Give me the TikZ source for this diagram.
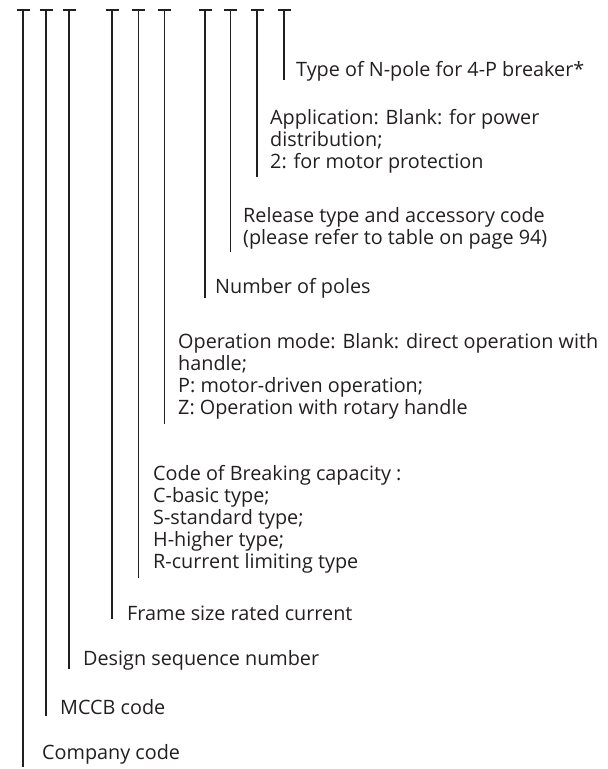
\documentclass[tikz,border=0pt]{standalone}
\usepackage{fontspec}
\setmainfont{Open Sans}
\definecolor{inkdark}{HTML}{231F20}
\tikzset{
  stem/.style={draw=inkdark, line width=1.8pt},
  codetext/.style={anchor=west, inner sep=0pt, align=left, text=inkdark,
    font=\fontsize{19.8}{22}\selectfont}
}
\begin{document}
\begin{tikzpicture}[x=1pt,y=-1pt]
  \useasboundingbox (0,0) rectangle (608,769);

  % Nodes
  \node[codetext] (company) at (42,754) {Company code};
  \node[codetext] (mccb) at (60,707) {MCCB code};
  \node[codetext] (design) at (83,660) {Design sequence number};
  \node[codetext] (frame) at (127,613) {Frame size rated current};
  \node[codetext] (breaking) at (153,519) {Code of Breaking capacity :\\C-basic type;\\S-standard type;\\H-higher type;\\R-current limiting type};
  \node[codetext] (opmode) at (178,376) {Operation mode: Blank: direct operation with\\handle;\\P: motor-driven operation;\\Z: Operation with rotary handle};
  \node[codetext] (poles) at (215,288) {Number of poles};
  \node[codetext] (release) at (243,228) {Release type and accessory code\\(please refer to table on page 94)};
  \node[codetext] (application) at (270,141) {Application: Blank: for power\\distribution;\\2: for motor protection};
  \node[codetext] (npole) at (296,71) {Type of N-pole for 4-P breaker*};

  % Stems
  \coordinate (top1) at (23,10);    \coordinate (bot1) at (23,767);
  \coordinate (top2) at (46,10);    \coordinate (bot2) at (46,716);
  \coordinate (top3) at (69,10);    \coordinate (bot3) at (69,669);
  \coordinate (top4) at (112,10);   \coordinate (bot4) at (112,619);
  \coordinate (top5) at (138.5,10); \coordinate (bot5) at (138.5,578);
  \coordinate (top6) at (164.5,10); \coordinate (bot6) at (164.5,424);
  \coordinate (top7) at (205,10);   \coordinate (bot7) at (205,298);
  \coordinate (top8) at (230.5,10); \coordinate (bot8) at (230.5,252);
  \coordinate (top9) at (257,10);   \coordinate (bot9) at (257,177);
  \coordinate (top10) at (284,10);  \coordinate (bot10) at (284,80);

  \foreach \i in {1,...,10} {
    \draw[stem] (top\i) -- (bot\i);
    \draw[stem] ([xshift=-6.5pt]top\i) -- ([xshift=6.5pt]top\i);
  }
\end{tikzpicture}
\end{document}
